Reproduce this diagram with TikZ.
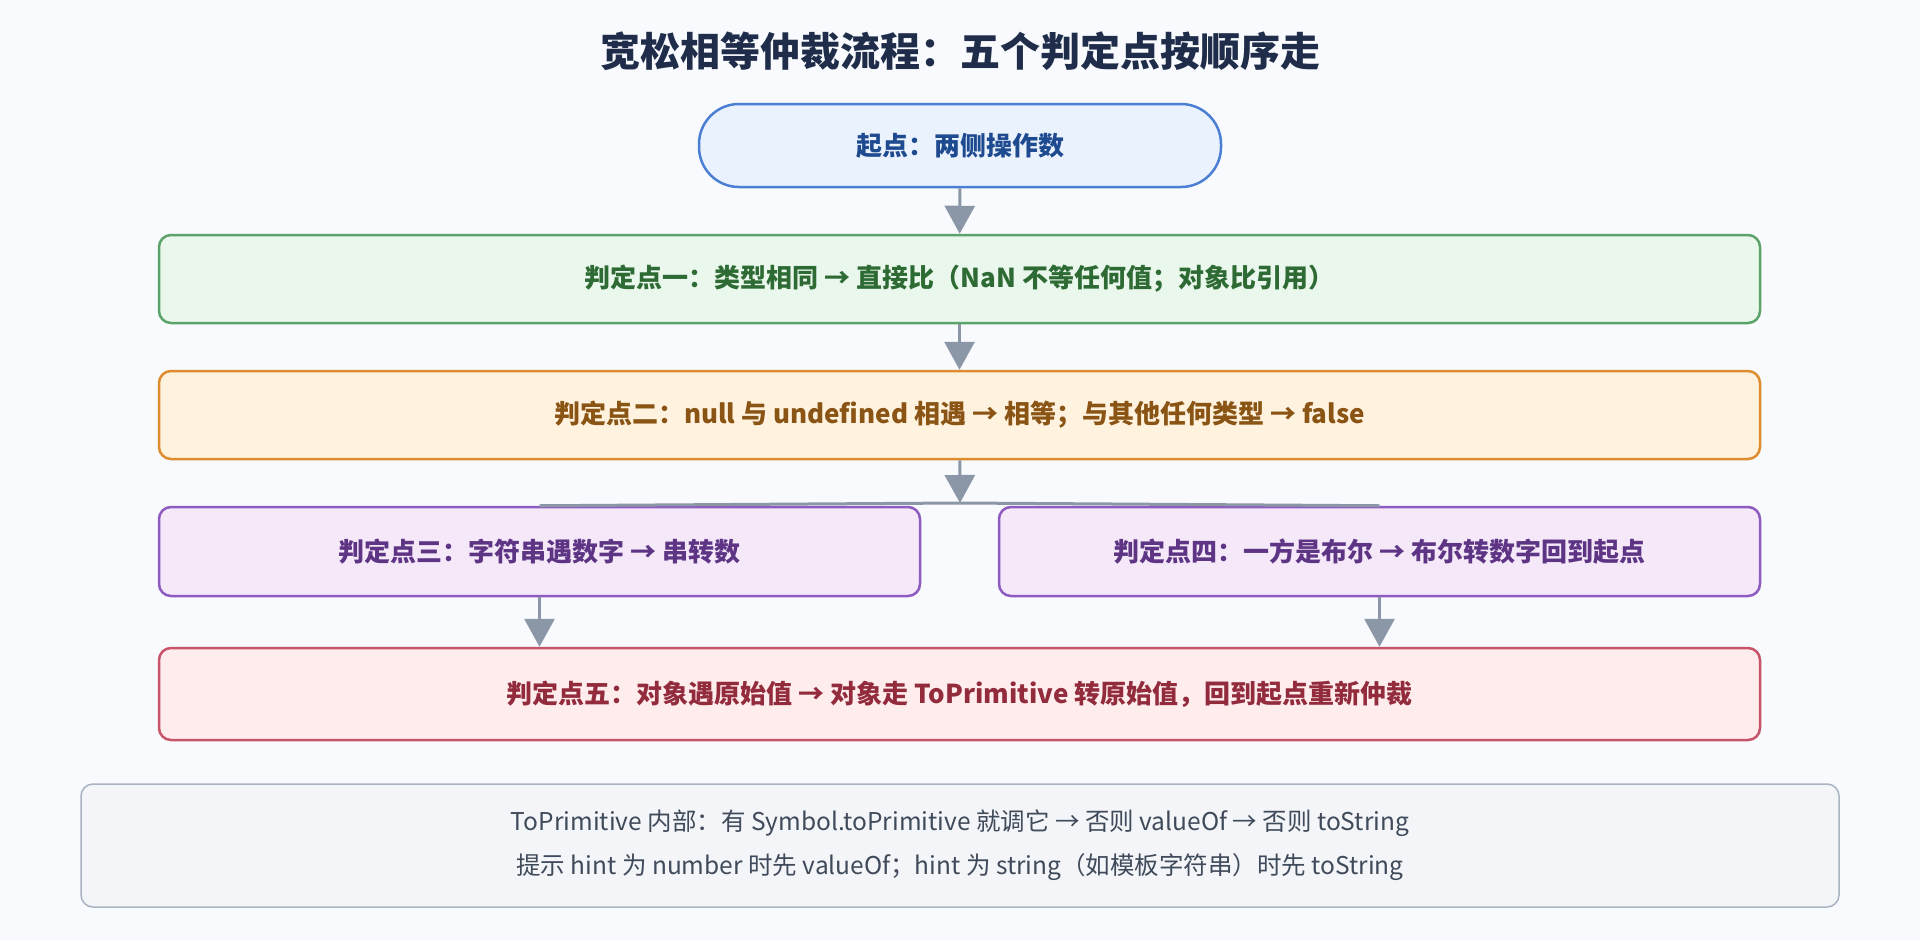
\documentclass[tikz,border=0pt]{standalone}
\usepackage{fontspec}
\setmainfont{Noto Sans CJK SC}
\usetikzlibrary{arrows.meta,positioning}
\definecolor{bgpaper}{HTML}{F8FAFD}
\definecolor{titleink}{HTML}{1F2D4A}
\definecolor{linkgray}{HTML}{8B97A7}
\definecolor{startfill}{HTML}{EAF2FE}
\definecolor{startline}{HTML}{4A7FD4}
\definecolor{startink}{HTML}{1E4A8F}
\definecolor{onefill}{HTML}{EAF7EC}
\definecolor{oneline}{HTML}{5BA36A}
\definecolor{oneink}{HTML}{2E6B34}
\definecolor{twofill}{HTML}{FFF2DE}
\definecolor{twoline}{HTML}{DE8C2E}
\definecolor{twoink}{HTML}{8A5414}
\definecolor{mauvefill}{HTML}{F4E8F9}
\definecolor{mauveline}{HTML}{8E5CC0}
\definecolor{mauveink}{HTML}{5E3585}
\definecolor{fivefill}{HTML}{FFEDEE}
\definecolor{fiveline}{HTML}{C8546A}
\definecolor{fiveink}{HTML}{922B3C}
\definecolor{notefill}{HTML}{F3F5F8}
\definecolor{noteline}{HTML}{A9B3C2}
\definecolor{noteink}{HTML}{3F4A5A}
\tikzstyle{checkbox} = [
  rectangle,
  rounded corners=12pt,
  line width=2.5pt,
  minimum height=88pt,
  minimum width=1601pt,
  font=\bfseries\fontsize{26}{32}\selectfont,
]
\tikzstyle{link} = [
  -{Triangle[length=28pt,width=30pt]},
  line width=3pt,
  linkgray,
]
\begin{document}
\begin{tikzpicture}[x=1pt,y=-1pt]

        \fill [bgpaper] (0,0) rectangle (1920,940);
        \useasboundingbox (0,0) rectangle (1920,940);

        \node (title) [text=titleink, font=\bfseries\fontsize{40}{46}\selectfont]
              at (960,51) {宽松相等仲裁流程：五个判定点按顺序走};

        \node (start) [checkbox, rounded corners=40pt, minimum width=522pt, minimum height=83pt,
              fill=startfill, draw=startline, text=startink] at (960,145.5)
              {起点：两侧操作数};

        \node (one) [checkbox, fill=onefill, draw=oneline, text=oneink]
              at (959.5,279) {判定点一：类型相同 → 直接比（NaN 不等任何值；对象比引用）};

        \node (two) [checkbox, fill=twofill, draw=twoline, text=twoink]
              at (959.5,415) {判定点二：null 与 undefined 相遇 → 相等；与其他任何类型 → false};

        \node (three) [checkbox, minimum width=761pt, minimum height=89pt,
              fill=mauvefill, draw=mauveline, text=mauveink]
              at (539.5,551.5) {判定点三：字符串遇数字 → 串转数};

        \node (four) [checkbox, minimum width=761pt, minimum height=89pt,
              fill=mauvefill, draw=mauveline, text=mauveink]
              at (1379.5,551.5) {判定点四：一方是布尔 → 布尔转数字回到起点};

        \node (five) [checkbox, minimum height=92pt,
              fill=fivefill, draw=fiveline, text=fiveink]
              at (959.5,694) {判定点五：对象遇原始值 → 对象走 ToPrimitive 转原始值，回到起点重新仲裁};

        \node (note) [rectangle, rounded corners=12pt, line width=1.5pt,
              minimum width=1758pt, minimum height=123pt,
              fill=notefill, draw=noteline, text=noteink,
              align=center, font=\fontsize{24.5}{44}\selectfont] at (960,845.5)
              {ToPrimitive 内部：有 Symbol.toPrimitive 就调它 → 否则 valueOf → 否则 toString\\
               提示 hint 为 number 时先 valueOf；hint 为 string（如模板字符串）时先 toString};

        \coordinate (fork) at (960,503);

        \draw [link] (start) -- (one);
        \draw [link] (one) -- (two);
        \draw [link] (two) -- (fork);
        \draw [line width=3pt, linkgray] (three.north) -- (fork) -- (four.north);
        \draw [link] (three.south) -- (three.south |- five.north);
        \draw [link] (four.south) -- (four.south |- five.north);

      \end{tikzpicture}
\end{document}
